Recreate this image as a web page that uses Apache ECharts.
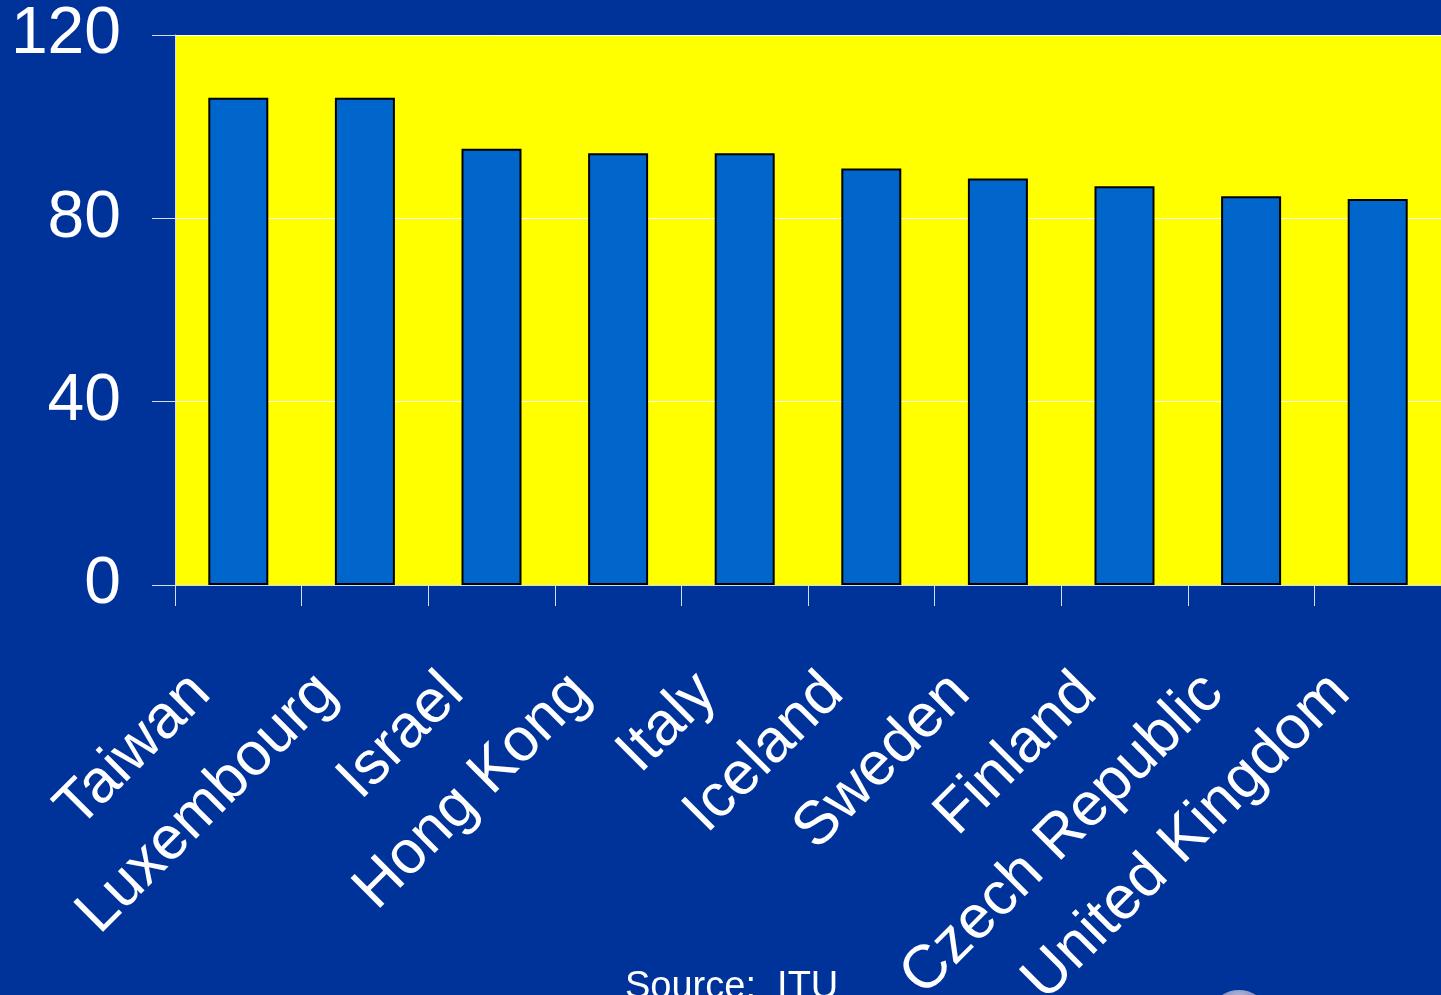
<!DOCTYPE html>
<html>
<head>
<meta charset="utf-8">
<script src="https://cdn.jsdelivr.net/npm/echarts@6/dist/echarts.min.js"></script>
<style>
  html, body { margin: 0; padding: 0; background: #003399; }
  #chart { width: 1441px; height: 995px; }
</style>
</head>
<body>
<div id="chart"></div>
<script>
// Countries and their values (per 100 inhabitants)
const countries = ['Taiwan', 'Luxembourg', 'Israel', 'Hong Kong', 'Italy', 'Iceland', 'Sweden', 'Finland', 'Czech Republic', 'United Kingdom'];
const values = [106.3, 106.3, 95.2, 94.2, 94.2, 90.9, 88.7, 87.0, 84.8, 84.2];
const yTicks = { min: 0, max: 120, interval: 40 };
const sourceNote = 'Source:  ITU';

const FONT = '"Liberation Sans", Arial, sans-serif';
const AXIS_COLOR = '#d6dcf0';

const chart = echarts.init(document.getElementById('chart'), null, { renderer: 'canvas' });

chart.setOption({
  backgroundColor: '#003399',
  animation: false,
  grid: {
    left: 175, right: 0, top: 35, bottom: 410,
    containLabel: false,
    outerBoundsMode: 'none',
    show: true,
    backgroundColor: '#ffff00',
    borderWidth: 0
  },
  xAxis: {
    type: 'category',
    data: countries,
    boundaryGap: true,
    axisLine: { show: true, lineStyle: { color: AXIS_COLOR, width: 1 } },
    axisTick: { show: true, interval: 0, length: 21, lineStyle: { color: AXIS_COLOR, width: 1 } },
    axisLabel: {
      interval: 0,
      rotate: 45,
      color: '#ffffff',
      fontFamily: FONT,
      fontSize: 61,
      margin: 136,
      verticalAlign: 'bottom',
      lineHeight: 106
    },
    splitLine: { show: false }
  },
  yAxis: {
    type: 'value',
    min: yTicks.min,
    max: yTicks.max,
    interval: yTicks.interval,
    axisLine: { show: true, lineStyle: { color: AXIS_COLOR, width: 1 } },
    axisTick: { show: true, length: 23, lineStyle: { color: AXIS_COLOR, width: 1 } },
    axisLabel: {
      color: '#ffffff',
      fontFamily: FONT,
      fontSize: 66,
      margin: 54
    },
    splitLine: { show: true, lineStyle: { color: '#ffffff', width: 1 } }
  },
  series: [{
    type: 'bar',
    data: values,
    barWidth: 60,
    itemStyle: {
      color: '#0066cc',
      borderColor: '#000000',
      borderWidth: 2
    }
  }],
  graphic: [
    {
      type: 'text',
      left: 625,
      top: 969,
      style: {
        text: sourceNote,
        fill: '#ffffff',
        font: '38px ' + FONT
      }
    },
    {
      type: 'ellipse',
      shape: { cx: 1239, cy: 1012, rx: 27, ry: 22 },
      style: {
        fill: {
          type: 'radial', x: 0.5, y: 0.3, r: 0.7,
          colorStops: [
            { offset: 0, color: '#c8cce8' },
            { offset: 1, color: '#5a64a8' }
          ]
        }
      }
    }
  ]
});
</script>
</body>
</html>
